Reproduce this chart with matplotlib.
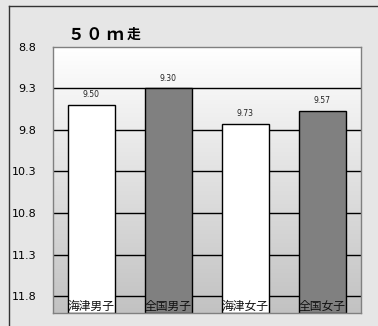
import numpy as np
import matplotlib
matplotlib.use("Agg")
import matplotlib.pyplot as plt
from matplotlib.colors import LinearSegmentedColormap
from matplotlib.lines import Line2D

plt.rcParams['font.family'] = ['Noto Sans CJK JP', 'DejaVu Sans']

# 50m run times (seconds)
categories = ['海津男子', '全国男子', '海津女子', '全国女子']
times = [9.50, 9.30, 9.73, 9.57]
labels = ['9.50', '9.30', '9.73', '9.57']
bar_colors = ['white', '#808080', 'white', '#808080']
yticks = [8.8, 9.3, 9.8, 10.3, 10.8, 11.3, 11.8]
ymin, ymax = 8.8, 12.0
title = '５０ｍ走'

fig = plt.figure(figsize=(3.78, 3.26), dpi=100)
fig.patch.set_facecolor('#e6e6e6')
ax = fig.add_axes([0.140, 0.041, 0.815, 0.815])

x = np.arange(len(categories))

# vertical gradient in the plot area
grad = LinearSegmentedColormap.from_list('bg', ['#ffffff', '#c2c2c2'])
ax.imshow(np.linspace(0, 1, 256).reshape(-1, 1), cmap=grad, aspect='auto',
          extent=(-0.5, len(categories) - 0.5, ymax, ymin), zorder=0)

for t in yticks[1:]:
    ax.axhline(t, color='black', lw=1.0, zorder=1)

ax.bar(x, [ymax - v for v in times], bottom=times, width=0.6,
       color=bar_colors, edgecolor='black', linewidth=1.0, zorder=2)

for xi, v, s in zip(x, times, labels):
    ax.text(xi, v - 0.07, s, ha='center', va='bottom', fontsize=5.5,
            color='#222222', family='DejaVu Sans', zorder=3)

for xi, c in zip(x, categories):
    ax.text(xi, 11.93, c, ha='center', va='center', fontsize=8.5,
            color='#111111', zorder=4, clip_on=False)

ax.set_xlim(-0.5, len(categories) - 0.5)
ax.set_ylim(ymax, ymin)
ax.set_yticks(yticks)
ax.set_yticklabels([f'{t:.1f}' for t in yticks], family='DejaVu Sans', fontsize=8)
ax.set_xticks([])
ax.tick_params(axis='y', length=0, pad=12)
for sp in ax.spines.values():
    sp.set_color('#808080')
    sp.set_linewidth(1.0)

# spaced-out title, one glyph at a time
title_x = [76, 94, 114, 134]
title_size = [12, 12, 12, 10]
for ch, px, fs in zip(title, title_x, title_size):
    fig.text(px / 378, 1 - 35 / 326, ch, ha='center', va='center',
             fontsize=fs, fontweight='bold')

# outer frame (top and left edges)
fig.add_artist(Line2D([9 / 378, 1.0], [1 - 6 / 326, 1 - 6 / 326],
                      color='#333333', lw=1.0, transform=fig.transFigure))
fig.add_artist(Line2D([9 / 378, 9 / 378], [0.0, 1 - 6 / 326],
                      color='#333333', lw=1.0, transform=fig.transFigure))

fig.savefig('out.png', dpi=100)
